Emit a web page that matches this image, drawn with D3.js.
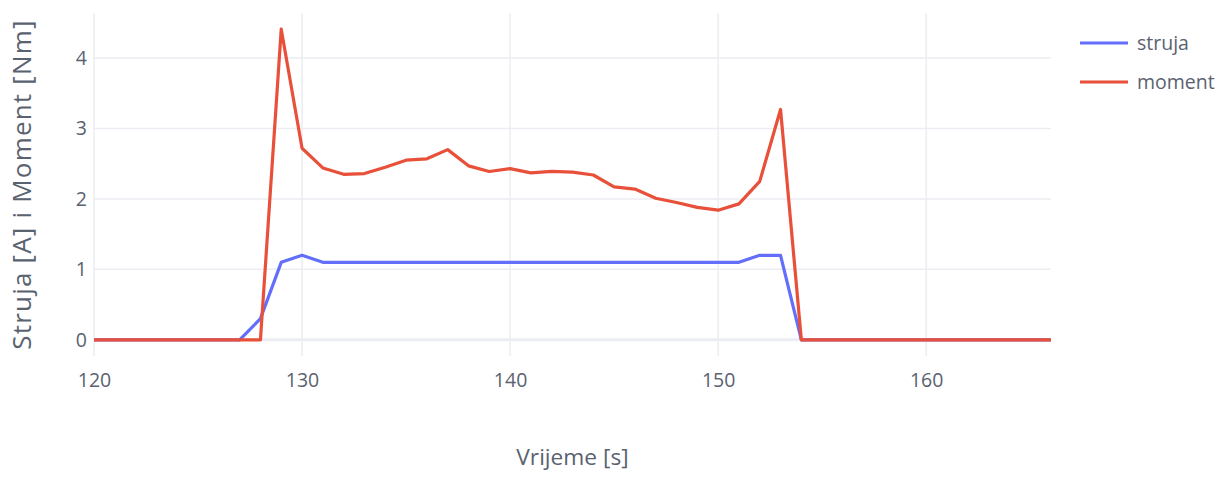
<!DOCTYPE html>
<html>
<head>
<meta charset="utf-8">
<script src="https://cdn.jsdelivr.net/npm/d3@7"></script>
<style>
  body { margin: 0; background: #fff; }
  text { font-family: "Open Sans", sans-serif; }
</style>
</head>
<body>
<div id="chart"></div>
<script>
// time in seconds, one sample per second
const vrijeme = d3.range(120, 167);

const struja = [
  0, 0, 0, 0, 0, 0, 0, 0, 0.3, 1.1,
  1.2, 1.1, 1.1, 1.1, 1.1, 1.1, 1.1, 1.1, 1.1, 1.1,
  1.1, 1.1, 1.1, 1.1, 1.1, 1.1, 1.1, 1.1, 1.1, 1.1,
  1.1, 1.1, 1.2, 1.2, 0, 0, 0, 0, 0, 0,
  0, 0, 0, 0, 0, 0, 0
];

const moment = [
  0, 0, 0, 0, 0, 0, 0, 0, 0, 4.41,
  2.72, 2.44, 2.35, 2.36, 2.45, 2.55, 2.57, 2.70, 2.47, 2.39,
  2.43, 2.37, 2.39, 2.38, 2.34, 2.17, 2.14, 2.01, 1.95, 1.88,
  1.84, 1.93, 2.25, 3.27, 0, 0, 0, 0, 0, 0,
  0, 0, 0, 0, 0, 0, 0
];

const seriesNames = ['struja', 'moment'];
const seriesColors = ['#636efa', '#e8503a'];
const xTicks = [120, 130, 140, 150, 160];
const yTicks = [0, 1, 2, 3, 4];

const width = 1228, height = 478;
const margin = { top: 13, right: 177, bottom: 122, left: 94 };
const textColor = '#5a6270';
const gridColor = '#ebedf2';

const svg = d3.select('#chart').append('svg')
  .attr('width', width)
  .attr('height', height);

const x = d3.scaleLinear()
  .domain([120, 166])
  .range([margin.left, width - margin.right]);

const y = d3.scaleLinear()
  .domain([-0.23, 4.64])
  .range([height - margin.bottom, margin.top]);

// grid
svg.append('g')
  .selectAll('line')
  .data(xTicks)
  .join('line')
  .attr('x1', d => x(d)).attr('x2', d => x(d))
  .attr('y1', margin.top).attr('y2', height - margin.bottom)
  .attr('stroke', gridColor)
  .attr('stroke-width', 1.5);

svg.append('g')
  .selectAll('line')
  .data(yTicks.filter(d => d !== 0))
  .join('line')
  .attr('x1', margin.left).attr('x2', width - margin.right)
  .attr('y1', d => y(d)).attr('y2', d => y(d))
  .attr('stroke', gridColor)
  .attr('stroke-width', 1.5);

// zero line
svg.append('line')
  .attr('x1', margin.left).attr('x2', width - margin.right)
  .attr('y1', y(0)).attr('y2', y(0))
  .attr('stroke', gridColor)
  .attr('stroke-width', 3);

// axes (labels only, no domain lines)
const xAxis = svg.append('g')
  .attr('transform', `translate(0, ${height - margin.bottom})`)
  .call(d3.axisBottom(x).tickValues(xTicks).tickSize(0).tickPadding(17));
xAxis.select('.domain').remove();
xAxis.selectAll('text')
  .attr('fill', textColor)
  .attr('font-size', '19.5px')
  .attr('font-family', '"Open Sans", sans-serif');

const yAxis = svg.append('g')
  .attr('transform', `translate(${margin.left}, 0)`)
  .call(d3.axisLeft(y).tickValues(yTicks).tickFormat(d3.format('d')).tickSize(0).tickPadding(7));
yAxis.select('.domain').remove();
yAxis.selectAll('text')
  .attr('fill', textColor)
  .attr('font-size', '19.5px')
  .attr('font-family', '"Open Sans", sans-serif');

// lines
const series = [struja, moment];
const line = d3.line()
  .x((d, i) => x(vrijeme[i]))
  .y(d => y(d));

series.forEach((values, k) => {
  svg.append('path')
    .datum(values)
    .attr('fill', 'none')
    .attr('stroke', seriesColors[k])
    .attr('stroke-width', 3.2)
    .attr('stroke-linejoin', 'round')
    .attr('d', line);
});

// axis titles
svg.append('text')
  .attr('x', (margin.left + width - margin.right) / 2)
  .attr('y', 465)
  .attr('text-anchor', 'middle')
  .attr('font-size', '22.7px')
  .attr('fill', textColor)
  .text('Vrijeme [s]');

svg.append('text')
  .attr('transform', `translate(31, ${(margin.top + height - margin.bottom) / 2}) rotate(-90)`)
  .attr('text-anchor', 'middle')
  .attr('font-size', '26px')
  .attr('letter-spacing', '1.2px')
  .attr('fill', textColor)
  .text('Struja [A] i Moment [Nm]');

// legend
const legend = svg.append('g')
  .attr('transform', 'translate(1080, 43)');

seriesNames.forEach((name, k) => {
  const row = legend.append('g').attr('transform', `translate(0, ${k * 39})`);
  row.append('line')
    .attr('x1', 0).attr('x2', 48)
    .attr('stroke', seriesColors[k])
    .attr('stroke-width', 3.2);
  row.append('text')
    .attr('x', 57)
    .attr('dy', '0.35em')
    .attr('font-size', '19.5px')
    .attr('fill', textColor)
    .text(name);
});
</script>
</body>
</html>
